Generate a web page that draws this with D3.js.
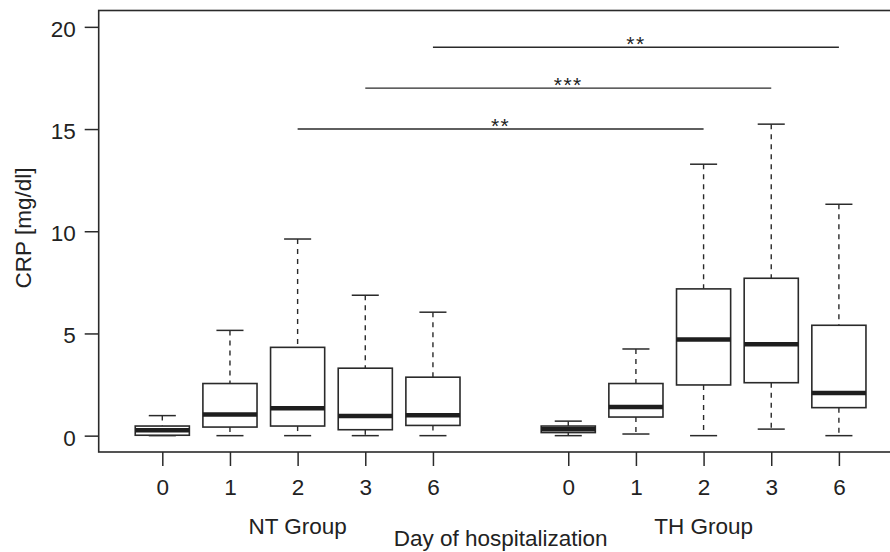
<!DOCTYPE html>
<html>
<head>
<meta charset="utf-8">
<script src="https://cdn.jsdelivr.net/npm/d3@7"></script>
<style>
  body { margin: 0; background: #fff; }
  svg { display: block; font-family: "Liberation Sans", Arial, sans-serif; }
  text { fill: #222; }
</style>
</head>
<body>
<svg></svg>
<script>
// box positions (gap at 6 between the two groups)
let positions = [1, 2, 3, 4, 5, 7, 8, 9, 10, 11]
let dayLabels = ['0', '1', '2', '3', '6', '0', '1', '2', '3', '6']
let groupNames = ['NT Group', 'TH Group']
let groupCenters = [3, 9]

// box stats (CRP mg/dl)
let lowerWhisker = [0, 0, 0, 0, 0, 0, 0.08, 0, 0.32, 0]
let q1 = [0.02, 0.42, 0.47, 0.29, 0.50, 0.15, 0.91, 2.48, 2.59, 1.37]
let medians = [0.26, 1.03, 1.34, 0.96, 1.00, 0.31, 1.40, 4.70, 4.47, 2.09]
let q3 = [0.47, 2.55, 4.32, 3.30, 2.86, 0.47, 2.55, 7.18, 7.70, 5.40]
let upperWhisker = [0.98, 5.15, 9.62, 6.87, 6.04, 0.71, 4.24, 13.28, 15.24, 11.32]

// significance brackets
let sigFrom = [3, 4, 5]
let sigTo = [9, 10, 11]
let sigLevel = [15, 17, 19]
let sigText = ['**', '***', '**']

let yTicks = [0, 5, 10, 15, 20]

let width = 890
let height = 552
let ink = '#2a2a2a'
let fontSize = '22.5px'

let svg = d3.select('svg')
svg.attr('width', width).attr('height', height)

let xScale = d3.scaleLinear()
               .domain([0.06, 11.94])
               .range([98.7, 902.5])

let yScale = d3.scaleLinear()
               .domain([-0.8, 20.8])
               .range([452, 10.5])

let boxHalf = 0.4   // box width 0.8
let capHalf = 0.2   // staple half of the box

// frame (right side falls outside the picture)
svg.append('rect')
   .attr('x', xScale(0.06))
   .attr('y', yScale(20.8))
   .attr('width', xScale(11.94) - xScale(0.06))
   .attr('height', yScale(-0.8) - yScale(20.8))
   .attr('fill', 'none')
   .attr('stroke', ink)
   .attr('stroke-width', 1.6)

// axes
let yAxis = d3.axisLeft(yScale)
              .tickValues(yTicks)
              .tickSize(14)
              .tickPadding(9)
let yG = svg.append('g')
            .attr('transform', 'translate(' + xScale(0.06) + ',0)')
            .call(yAxis)

let xAxis = d3.axisBottom(xScale)
              .tickValues(positions)
              .tickFormat((d, i) => dayLabels[i])
              .tickSize(14)
              .tickPadding(13)
let xG = svg.append('g')
            .attr('transform', 'translate(0,' + yScale(-0.8) + ')')
            .call(xAxis)

for (let g of [xG, yG]) {
    g.select('.domain').remove()
    g.selectAll('line').attr('stroke', ink).attr('stroke-width', 1.5)
    g.selectAll('text')
     .style('font-size', fontSize)
     .style('font-family', '"Liberation Sans", Arial, sans-serif')
     .attr('fill', '#222')
}
yG.selectAll('text').attr('dy', '0.42em')

// boxes
let boxes = svg.append('g')
               .selectAll('g')
               .data(positions)
               .enter()
               .append('g')

// dashed whiskers
boxes.append('line')
     .attr('x1', (d) => xScale(d)).attr('x2', (d) => xScale(d))
     .attr('y1', (d, i) => yScale(upperWhisker[i]))
     .attr('y2', (d, i) => yScale(q3[i]))
     .attr('stroke', ink).attr('stroke-width', 1.4)
     .attr('stroke-dasharray', '5,5')
boxes.append('line')
     .attr('x1', (d) => xScale(d)).attr('x2', (d) => xScale(d))
     .attr('y1', (d, i) => yScale(q1[i]))
     .attr('y2', (d, i) => yScale(lowerWhisker[i]))
     .attr('stroke', ink).attr('stroke-width', 1.4)
     .attr('stroke-dasharray', '5,5')

// staples
boxes.append('line')
     .attr('x1', (d) => xScale(d - capHalf)).attr('x2', (d) => xScale(d + capHalf))
     .attr('y1', (d, i) => yScale(upperWhisker[i]))
     .attr('y2', (d, i) => yScale(upperWhisker[i]))
     .attr('stroke', ink).attr('stroke-width', 1.5)
boxes.append('line')
     .attr('x1', (d) => xScale(d - capHalf)).attr('x2', (d) => xScale(d + capHalf))
     .attr('y1', (d, i) => yScale(lowerWhisker[i]))
     .attr('y2', (d, i) => yScale(lowerWhisker[i]))
     .attr('stroke', ink).attr('stroke-width', 1.5)

// box body
boxes.append('rect')
     .attr('x', (d) => xScale(d - boxHalf))
     .attr('width', (d) => xScale(d + boxHalf) - xScale(d - boxHalf))
     .attr('y', (d, i) => yScale(q3[i]))
     .attr('height', (d, i) => yScale(q1[i]) - yScale(q3[i]))
     .attr('fill', '#fff')
     .attr('stroke', ink)
     .attr('stroke-width', 1.6)

// median
boxes.append('line')
     .attr('x1', (d) => xScale(d - boxHalf)).attr('x2', (d) => xScale(d + boxHalf))
     .attr('y1', (d, i) => yScale(medians[i]))
     .attr('y2', (d, i) => yScale(medians[i]))
     .attr('stroke', '#1e1e1e').attr('stroke-width', 4.5)

// significance lines
let sig = svg.append('g')
             .selectAll('g')
             .data(sigLevel)
             .enter()
             .append('g')
sig.append('line')
   .attr('x1', (d, i) => xScale(sigFrom[i]))
   .attr('x2', (d, i) => xScale(sigTo[i]))
   .attr('y1', (d) => yScale(d))
   .attr('y2', (d) => yScale(d))
   .attr('stroke', ink).attr('stroke-width', 1.4)
sig.append('text')
   .attr('x', (d, i) => xScale((sigFrom[i] + sigTo[i]) / 2))
   .attr('y', (d) => yScale(d) + 4)
   .attr('text-anchor', 'middle')
   .style('font-size', '21px')
   .style('letter-spacing', '1.5px')
   .text((d, i) => sigText[i])

// group labels
svg.selectAll('.group-label')
   .data(groupNames)
   .enter()
   .append('text')
   .attr('class', 'group-label')
   .attr('x', (d, i) => xScale(groupCenters[i]))
   .attr('y', 534)
   .attr('text-anchor', 'middle')
   .style('font-size', fontSize)
   .text((d) => d)

// axis titles
svg.append('text')
   .attr('x', xScale(6))
   .attr('y', 546)
   .attr('text-anchor', 'middle')
   .style('font-size', fontSize)
   .text('Day of hospitalization')

svg.append('text')
   .attr('transform', 'rotate(-90)')
   .attr('x', -228)
   .attr('y', 31)
   .attr('text-anchor', 'middle')
   .style('font-size', fontSize)
   .text('CRP [mg/dl]')
</script>
</body>
</html>
